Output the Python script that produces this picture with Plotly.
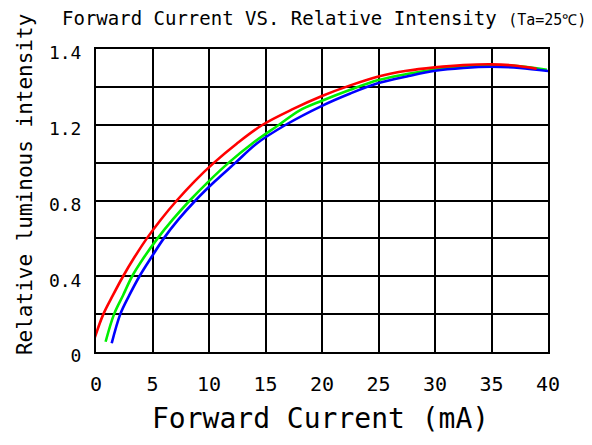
import plotly.graph_objects as go

# Data (axis units: grid row = 0.2; the original chart labels its top line "1.4")
red_x = [-0.2, 0.65, 1.5, 2.4, 3.4, 4.5, 5.75, 7.15, 8.7, 10.45, 12.45, 14.75, 17.5, 20, 22.5, 25, 27.5, 30, 32.5, 35, 37, 39]
red_y = [0.06, 0.2, 0.3, 0.4, 0.5, 0.6, 0.7, 0.8, 0.9, 1.0, 1.1, 1.2, 1.285, 1.352, 1.408, 1.455, 1.485, 1.503, 1.515, 1.519, 1.513, 1.496]

green_x = [0.85, 1.6, 2.4, 3.2, 4.25, 5.45, 6.8, 8.3, 9.95, 11.75, 13.8, 16.2, 18, 20, 22.5, 25, 27.5, 30, 32.5, 35, 37.5, 39.9]
green_y = [0.054, 0.2, 0.3, 0.4, 0.5, 0.6, 0.7, 0.8, 0.9, 1.0, 1.1, 1.2, 1.275, 1.327, 1.385, 1.436, 1.468, 1.492, 1.506, 1.514, 1.508, 1.49]

blue_x = [1.39, 2.15, 2.95, 3.85, 4.9, 6.0, 7.3, 8.8, 10.5, 12.35, 14.2, 16.8, 20, 22.5, 25, 27.5, 30, 32.5, 35, 37.5, 40.5]
blue_y = [0.046, 0.2, 0.3, 0.4, 0.5, 0.6, 0.7, 0.8, 0.9, 1.0, 1.1, 1.2, 1.30, 1.365, 1.42, 1.455, 1.485, 1.5, 1.506, 1.5, 1.48]

x_ticks = [0, 5, 10, 15, 20, 25, 30, 35, 40]
y_tickvals = [0, 0.4, 0.8, 1.2, 1.6]
y_ticktext = ["0", "0.4", "0.8", "1.2", "1.4"]
y_minor_grid = [0.2, 0.6, 1.0, 1.4]

FONT = "DejaVu Sans Mono"

fig = go.Figure()
for xs, ys, col in [(green_x, green_y, "#00ee00"), (blue_x, blue_y, "#0000ff"), (red_x, red_y, "#ff0000")]:
    fig.add_trace(go.Scatter(x=xs, y=ys, mode="lines",
                             line=dict(color=col, width=2.6, shape="spline", smoothing=1.0),
                             showlegend=False, hoverinfo="skip"))

# page body adds an 8px offset; size/margins compensate so the plot area sits at 96..548 x 49..352
fig.update_layout(
    width=584, height=437,
    margin=dict(l=88, r=44, t=41, b=93),
    paper_bgcolor="white", plot_bgcolor="white",
    font=dict(family=FONT, color="black"),
    title=dict(text='Forward Current VS. Relative Intensity <span style="font-size:15px">(Ta=25℃)</span>',
               x=54 / 584, xanchor="left", y=1 - 10 / 437, yanchor="middle",
               font=dict(size=19, family=FONT, color="black")),
    xaxis=dict(range=[0, 40], tickvals=x_ticks, showgrid=True, gridcolor="black", gridwidth=2,
               showline=True, linecolor="black", linewidth=2, mirror=True, zeroline=False,
               ticks="", ticklabelstandoff=13, tickfont=dict(size=20)),
    yaxis=dict(range=[0, 1.6], tickvals=y_tickvals, ticktext=y_ticktext, showgrid=True, gridcolor="black", gridwidth=2,
               showline=True, linecolor="black", linewidth=2, mirror=True, zeroline=False,
               ticks="", ticklabelstandoff=9, ticklabelshift=4, tickfont=dict(size=18),
               minor=dict(tickvals=y_minor_grid, showgrid=True, gridcolor="black", gridwidth=2)),
    annotations=[
        dict(text="Forward Current (mA)", xref="paper", yref="paper", x=0.496, y=-0.218,
             xanchor="center", yanchor="middle", showarrow=False, font=dict(size=28, family=FONT)),
        dict(text="Relative luminous intensity", xref="paper", yref="paper", x=-0.157, y=0.551,
             xanchor="center", yanchor="middle", textangle=-90, showarrow=False, font=dict(size=21, family=FONT)),
    ],
)

fig.write_html("out.html")
